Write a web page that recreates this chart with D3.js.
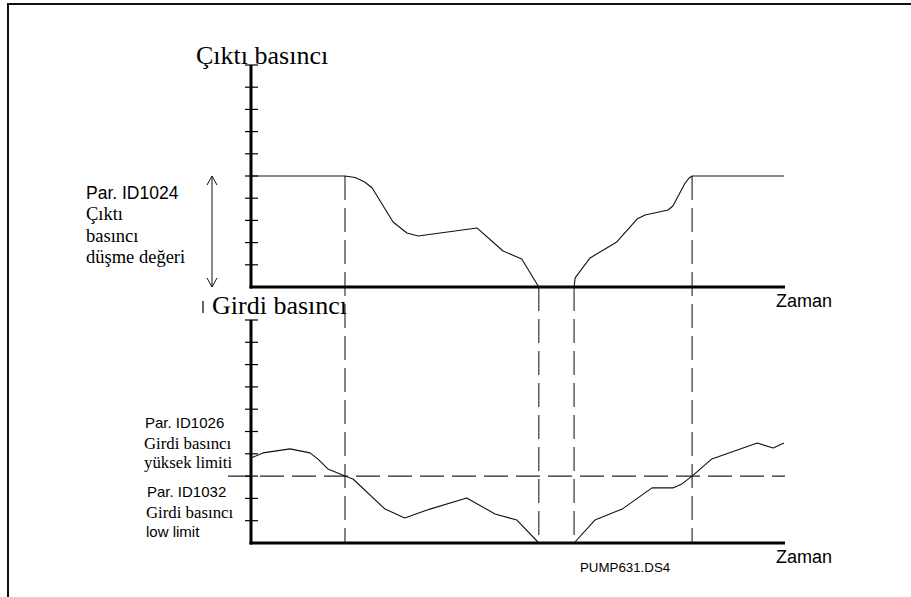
<!DOCTYPE html>
<html><head><meta charset="utf-8">
<script src="https://cdn.jsdelivr.net/npm/d3@7/dist/d3.min.js"></script>
<style>body{margin:0;background:#fff}svg{display:block}</style>
</head><body>
<svg id="c" width="911" height="597"></svg>
<script>
// ---- data ----
const outTime  = [0, 17.6, 19.5, 21.3, 22.7, 26.6, 29.2, 31.3, 42.3, 47.2, 50.7, 53.9, 60.5, 60.7, 63.5, 68.5, 72.3, 73.8, 78.1, 79.0, 81.3, 82.0, 82.6, 99.8];
const outValue = [5, 5, 4.93, 4.73, 4.46, 2.93, 2.43, 2.30, 2.66, 1.62, 1.26, 0, 0, 0.41, 1.31, 2.03, 3.06, 3.24, 3.47, 3.65, 4.68, 4.9, 5, 5];
const inTime   = [0, 2.25, 7.3, 11.05, 12.5, 14.4, 17.6, 19.1, 25.1, 28.8, 33.5, 40.4, 45.7, 49.8, 53.9, 60.5, 64.4, 69.5, 75.1, 79.0, 80.7, 82.6, 86.3, 94.8, 97.8, 99.8];
const inValue  = [3.81, 4.04, 4.22, 4.04, 3.77, 3.32, 3.0, 2.87, 1.52, 1.12, 1.52, 2.02, 1.30, 1.03, 0, 0, 1.03, 1.52, 2.47, 2.47, 2.65, 3.0, 3.77, 4.48, 4.26, 4.48];
const eventTimes = [17.6, 53.9, 60.5, 82.6];
const eventTopLevel = [5, 0, 0, 5];
const highLimit = 3;
const tickValues = [1, 2, 3, 4, 5, 6, 7, 8, 9, 10];
const topTitle = "Çıktı basıncı";
const bottomTitle = "Girdi basıncı";
const xLabel = "Zaman";
const topNote = ["Par. ID1024", "Çıktı", "basıncı", "düşme değeri"];
const highNote = ["Par. ID1026", "Girdi basıncı", "yüksek limiti"];
const lowNote = ["Par. ID1032", "Girdi basıncı", "low limit"];
const footer = "PUMP631.DS4";

const svg = d3.select("#c");
const SANS = "'Liberation Sans', Arial, sans-serif";
const SERIF = "'Liberation Serif', 'Times New Roman', serif";

// frame
svg.append("path").attr("d", "M8,597 L8,4 L911,4").attr("fill", "none").attr("stroke", "#111").attr("stroke-width", 2);

const x = d3.scaleLinear().domain([0, 100]).range([251, 785]);
const yTop = d3.scaleLinear().domain([0, 10]).range([287, 65]);
const yBot = d3.scaleLinear().domain([0, 10]).range([543, 320]);

function axis(y) {
  const g = svg.append("g");
  g.append("line").attr("x1", x(0)).attr("x2", x(0)).attr("y1", y(0) + 1.5).attr("y2", y(10))
    .attr("stroke", "#000").attr("stroke-width", 3);
  g.append("line").attr("x1", x(0) - 1.5).attr("x2", x(100)).attr("y1", y(0)).attr("y2", y(0))
    .attr("stroke", "#000").attr("stroke-width", 3);
  g.selectAll(".t").data(tickValues).enter().append("line")
    .attr("x1", x(0) - 6).attr("x2", x(0) + 7)
    .attr("y1", d => y(d)).attr("y2", d => y(d))
    .attr("stroke", "#000").attr("stroke-width", 1.2);
}

const dash = "24,8";
// vertical event lines
eventTimes.forEach((t, i) => {
  svg.append("line").attr("x1", x(t)).attr("x2", x(t))
    .attr("y1", yTop(eventTopLevel[i])).attr("y2", yBot(0))
    .attr("stroke", "#222").attr("stroke-width", 1.1).attr("stroke-dasharray", dash);
});
// high limit dashed line
svg.append("line").attr("x1", 228).attr("x2", x(100)).attr("y1", yBot(highLimit)).attr("y2", yBot(highLimit))
  .attr("stroke", "#222").attr("stroke-width", 1.1).attr("stroke-dasharray", dash);

axis(yTop);
axis(yBot);

const lineTop = d3.line().x((d, i) => x(outTime[i])).y(d => yTop(d));
const lineBot = d3.line().x((d, i) => x(inTime[i])).y(d => yBot(d));
svg.append("path").attr("d", lineTop(outValue)).attr("fill", "none").attr("stroke", "#111").attr("stroke-width", 1.1).attr("stroke-linejoin", "round");
svg.append("path").attr("d", lineBot(inValue)).attr("fill", "none").attr("stroke", "#111").attr("stroke-width", 1.1).attr("stroke-linejoin", "round");

// titles
svg.append("text").attr("x", 196).attr("y", 64).attr("font-family", SERIF).attr("font-size", 26).text(topTitle);
svg.append("text").attr("x", 212).attr("y", 314).attr("font-family", SERIF).attr("font-size", 26).text(bottomTitle);
svg.append("line").attr("x1", 203).attr("x2", 203).attr("y1", 301).attr("y2", 313).attr("stroke", "#000").attr("stroke-width", 1.2);

// Zaman labels
svg.append("text").attr("x", 776).attr("y", yTop(0) + 20).attr("font-family", SANS).attr("font-size", 18).text(xLabel);
svg.append("text").attr("x", 776).attr("y", yBot(0) + 20).attr("font-family", SANS).attr("font-size", 18).text(xLabel);

// notes
function note(lines, xs, ys, fonts, sizes) {
  lines.forEach((s, i) => {
    svg.append("text").attr("x", xs[i]).attr("y", ys[i]).attr("font-family", fonts[i]).attr("font-size", sizes[i]).text(s);
  });
}
note(topNote, [86, 86, 86, 86], [199, 220, 242, 263], [SANS, SERIF, SERIF, SERIF], [17.5, 18.5, 18.5, 18.5]);
note(highNote, [145, 144, 144], [428, 449, 468], [SANS, SERIF, SERIF], [15, 16.8, 16.8]);
note(lowNote, [147, 146, 146], [497, 518, 537], [SANS, SERIF, SANS], [15, 16.8, 15]);

// double arrow
const ax = 212, a1 = yTop(5), a2 = yTop(0);
svg.append("path").attr("d", `M${ax},${a1} L${ax},${a2} M${ax-5},${a1+9} L${ax},${a1} L${ax+5},${a1+9} M${ax-5},${a2-9} L${ax},${a2} L${ax+5},${a2-9}`)
  .attr("fill", "none").attr("stroke", "#111").attr("stroke-width", 1);

svg.append("text").attr("x", 580).attr("y", 572).attr("font-family", SANS).attr("font-size", 13.3).text(footer);
</script>
</body></html>
